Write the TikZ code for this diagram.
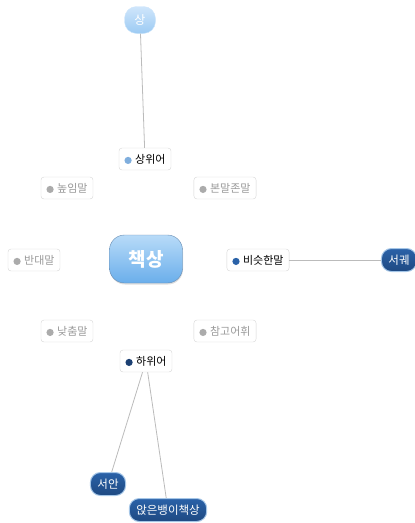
\documentclass[tikz,border=0pt]{standalone}
\usepackage{fontspec}
\usepackage{tikz}
\usetikzlibrary{shadings,shadows}
\newfontfamily\kr{Noto Sans CJK KR}

\definecolor{lineg}{HTML}{BBBBBB}
\definecolor{boxg}{HTML}{D6D6D6}
\definecolor{textg}{HTML}{9A9A9A}
\definecolor{dotg}{HTML}{ABABAB}
\definecolor{dotlight}{HTML}{7FAEDD}
\definecolor{dotmid}{HTML}{2A62A8}
\definecolor{dotnavy}{HTML}{1B3F72}
\definecolor{deepblue}{HTML}{245699}
\definecolor{skytop}{HTML}{B8DBF8}
\definecolor{skybot}{HTML}{6AAEEB}
\definecolor{paletop}{HTML}{CFE6FB}
\definecolor{palebot}{HTML}{9CCAF3}

\newcommand{\bul}[1]{\tikz[baseline=-0.45ex]\fill[#1] (0,0) circle (3.6pt);\hspace{3.5pt}}

\begin{document}
\begin{tikzpicture}[x=1pt,y=-1pt,
  every node/.style = {font=\kr\fontsize{11}{13}\selectfont},
  sub/.style = {shape=rectangle, rounded corners=3pt, draw=boxg, fill=white,
    minimum height=22pt, inner xsep=5.5pt},
  faded/.style = {sub, text=textg},
  topic/.style = {shape=rectangle, rounded corners=15pt, draw=dotlight!80!black,
    top color=skytop, bottom color=skybot, text=white,
    minimum width=73pt, minimum height=48pt,
    font=\kr\bfseries\fontsize{19}{22}\selectfont,
    drop shadow={opacity=0.25, shadow xshift=0.5pt, shadow yshift=-1.5pt}},
  leaf/.style = {shape=rectangle, rounded corners=10pt, draw=dotlight!70,
    line width=1pt, top color=dotmid, bottom color=deepblue!85!black,
    text=white, minimum height=23pt, inner xsep=7pt,
    font=\kr\fontsize{11.5}{13}\selectfont},
  upleaf/.style = {shape=rectangle, rounded corners=12pt, draw=paletop,
    top color=paletop, bottom color=palebot, text=white,
    minimum width=31pt, minimum height=27pt,
    font=\kr\fontsize{12}{14}\selectfont},
  link/.style = {draw=lineg, line width=0.8pt}]

  \clip (0,0) rectangle (415,523);

  \node[topic] (chaeksang) at (146,259) {책상};

  \node[sub] (sangwi) at (145,159) {\bul{dotlight}상위어};
  \node[faded] (nopim) at (67,188) {\bul{dotg}높임말};
  \node[faded] (bonmal) at (225,188) {\bul{dotg}본말존말};
  \node[faded] (bandae) at (34,260) {\bul{dotg}반대말};
  \node[sub] (biseut) at (258,260) {\bul{dotmid}비슷한말};
  \node[faded] (natchum) at (67,331) {\bul{dotg}낮춤말};
  \node[faded] (chamgo) at (225,331) {\bul{dotg}참고어휘};
  \node[sub] (hawi) at (146,361) {\bul{dotnavy}하위어};

  \node[upleaf] (sang) at (140,20) {상};
  \node[leaf] (seogwe) at (399,260) {서궤};
  \node[leaf] (seoan) at (108,484) {서안};
  \node[leaf] (anjeun) at (168,510) {앉은뱅이책상};

  % connectors
  \draw[link] (sang) -- (sangwi);
  \draw[link] (biseut) -- (seogwe);
  \draw[link] (hawi) -- (seoan);
  \draw[link] (hawi) -- (anjeun);
\end{tikzpicture}
\end{document}
